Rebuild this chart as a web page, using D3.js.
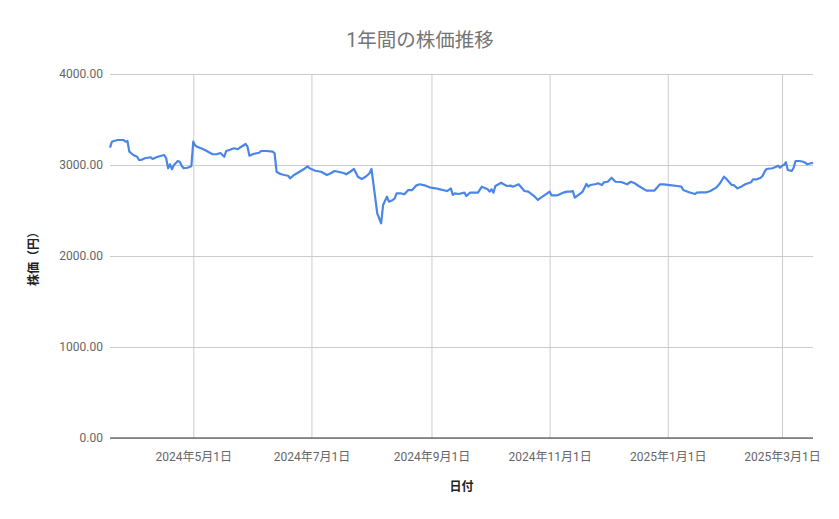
<!DOCTYPE html>
<html><head><meta charset="utf-8">
<script src="https://cdn.jsdelivr.net/npm/d3@7"></script>
<style>
html,body{margin:0;padding:0;background:#fff;}
svg text{font-family:Roboto,"Noto Sans CJK JP",sans-serif;}
</style></head>
<body><svg id="c" width="839" height="519"></svg>
<script>
const titleText = "1年間の株価推移";
const xTitle = "日付";
const yTitle = "株価（円）";
const yTicks = [0, 1000, 2000, 3000, 4000];
const xTickDates = ["2024-05-01","2024-07-01","2024-09-01","2024-11-01","2025-01-01","2025-03-01"];
const dates = [
"2024-03-19","2024-03-20","2024-03-21","2024-03-23","2024-03-26","2024-03-27","2024-03-28","2024-03-29","2024-03-31",
"2024-04-02","2024-04-03","2024-04-04","2024-04-06","2024-04-09","2024-04-10","2024-04-12","2024-04-14","2024-04-16","2024-04-17","2024-04-18","2024-04-19","2024-04-20","2024-04-21","2024-04-23","2024-04-24","2024-04-25","2024-04-26","2024-04-28","2024-04-30",
"2024-05-01","2024-05-02","2024-05-03","2024-05-05","2024-05-07","2024-05-11","2024-05-13","2024-05-15","2024-05-17","2024-05-18","2024-05-20","2024-05-22","2024-05-24","2024-05-25","2024-05-28","2024-05-29","2024-05-30",
"2024-06-01","2024-06-04","2024-06-05","2024-06-08","2024-06-11","2024-06-12","2024-06-13","2024-06-15","2024-06-17","2024-06-19","2024-06-20","2024-06-22","2024-06-24","2024-06-27","2024-06-29","2024-06-30",
"2024-07-03","2024-07-06","2024-07-09","2024-07-11","2024-07-13","2024-07-16","2024-07-18","2024-07-19","2024-07-21","2024-07-23","2024-07-25","2024-07-27","2024-07-29","2024-07-31",
"2024-08-01","2024-08-03","2024-08-04","2024-08-06","2024-08-07","2024-08-09","2024-08-10","2024-08-12","2024-08-13","2024-08-14","2024-08-16","2024-08-18","2024-08-20","2024-08-22","2024-08-24","2024-08-26","2024-08-29","2024-08-31",
"2024-09-03","2024-09-06","2024-09-09","2024-09-11","2024-09-12","2024-09-13","2024-09-15","2024-09-18","2024-09-19","2024-09-21","2024-09-25","2024-09-27","2024-09-30",
"2024-10-01","2024-10-02","2024-10-03","2024-10-04","2024-10-07","2024-10-08","2024-10-10","2024-10-12","2024-10-13","2024-10-16","2024-10-19","2024-10-21","2024-10-24","2024-10-26","2024-10-27","2024-10-30",
"2024-11-01","2024-11-02","2024-11-05","2024-11-08","2024-11-10","2024-11-12","2024-11-13","2024-11-14","2024-11-17","2024-11-18","2024-11-20","2024-11-21","2024-11-22","2024-11-25","2024-11-26","2024-11-28","2024-11-29",
"2024-12-01","2024-12-03","2024-12-05","2024-12-08","2024-12-09","2024-12-11","2024-12-13","2024-12-15","2024-12-17","2024-12-21","2024-12-23","2024-12-25","2024-12-28","2024-12-30",
"2025-01-03","2025-01-06","2025-01-08","2025-01-09","2025-01-12","2025-01-15","2025-01-16","2025-01-18","2025-01-21","2025-01-23","2025-01-26","2025-01-28","2025-01-30","2025-01-31",
"2025-02-02","2025-02-03","2025-02-04","2025-02-06","2025-02-08","2025-02-10","2025-02-13","2025-02-14","2025-02-16","2025-02-18","2025-02-19","2025-02-20","2025-02-21","2025-02-24","2025-02-26","2025-02-27","2025-02-28",
"2025-03-01","2025-03-02","2025-03-03","2025-03-04","2025-03-06","2025-03-07","2025-03-08","2025-03-10","2025-03-12","2025-03-13","2025-03-14","2025-03-16","2025-03-17"
];
const prices = [
3190,3256,3264,3275,3275,3256,3264,3146,3110,
3091,3055,3055,3074,3085,3066,3085,3099,3110,3074,2964,3008,2953,3000,3044,3036,2992,2964,2970,2986,
3256,3215,3200,3184,3165,3118,3118,3132,3091,3154,3168,3184,3173,3190,3231,3201,3102,
3121,3135,3154,3154,3146,3129,2926,2901,2890,2882,2854,2890,2915,2953,2986,2964,
2937,2926,2890,2909,2934,2920,2909,2898,2926,2956,2871,2846,2871,2909,
2956,2634,2469,2359,2560,2652,2597,2615,2634,2689,2689,2678,2725,2725,2773,2788,2773,2755,
2744,2729,2714,2744,2670,2689,2681,2696,2659,2696,2696,2762,2733,
2707,2733,2696,2769,2805,2791,2769,2773,2762,2788,2714,2707,2659,2615,2634,2678,
2707,2667,2667,2696,2707,2707,2714,2641,2689,2707,2791,2762,2780,2791,2799,2780,2810,
2816,2860,2816,2813,2805,2788,2816,2799,2769,2718,2718,2718,2788,2788,
2777,2769,2762,2725,2700,2681,2696,2700,2700,2714,2751,2799,2871,2854,
2805,2780,2780,2744,2762,2788,2810,2843,2843,2860,2882,2926,2956,2964,2981,2992,2970,
2992,3000,3030,2945,2934,2970,3044,3044,3036,3025,3008,3019,3025
];

const W = 839, H = 519;
const m = {left:110, right:26, top:74, bottom:81};
const svg = d3.select("#c");
const parse = d3.utcParse("%Y-%m-%d");
const data = dates.map((d,i)=>({date:parse(d), v:prices[i]}));

const x = d3.scaleUtc().domain(d3.extent(data, d=>d.date)).range([m.left, W-m.right]);
const y = d3.scaleLinear().domain([0,4000]).range([H-m.bottom, m.top]);

const ya = svg.append("g").attr("transform",`translate(${m.left},0)`)
  .call(d3.axisLeft(y).tickValues(yTicks).tickSize(-(W-m.left-m.right)).tickPadding(7).tickFormat(d3.format(".2f")));
ya.select(".domain").remove();
ya.selectAll(".tick line").attr("stroke","#cccccc").attr("stroke-width",1);
ya.selectAll(".tick text").attr("fill","#666666").attr("font-size",12);

const xa = svg.append("g").attr("transform",`translate(0,${H-m.bottom})`)
  .call(d3.axisBottom(x).tickValues(xTickDates.map(parse)).tickSize(-(H-m.top-m.bottom)).tickPadding(14)
    .tickFormat(d=>`${d.getUTCFullYear()}年${d.getUTCMonth()+1}月${d.getUTCDate()}日`));
xa.select(".domain").remove();
xa.selectAll(".tick line").attr("stroke","#cccccc").attr("stroke-width",1);
xa.selectAll(".tick text").attr("fill","#666666").attr("font-size",12);

svg.append("line").attr("x1",m.left).attr("x2",W-m.right).attr("y1",y(0)).attr("y2",y(0))
  .attr("stroke","#333333").attr("stroke-width",1);

svg.append("path").datum(data)
  .attr("fill","none").attr("stroke","#4a86e8").attr("stroke-width",2.2).attr("stroke-linejoin","round")
  .attr("d", d3.line().x(d=>x(d.date)).y(d=>y(d.v)));

svg.append("text").attr("x",420).attr("y",47).attr("text-anchor","middle")
  .attr("fill","#757575").attr("font-size",19.5).text(titleText);
svg.append("text").attr("x",(m.left+W-m.right)/2).attr("y",491).attr("text-anchor","middle")
  .attr("fill","#222222").attr("font-size",12).attr("font-weight","bold").text(xTitle);
svg.append("text").attr("transform",`translate(38,${(m.top+H-m.bottom)/2}) rotate(-90)`).attr("text-anchor","middle")
  .attr("fill","#222222").attr("font-size",12).attr("font-weight","bold").text(yTitle);
</script></body></html>
